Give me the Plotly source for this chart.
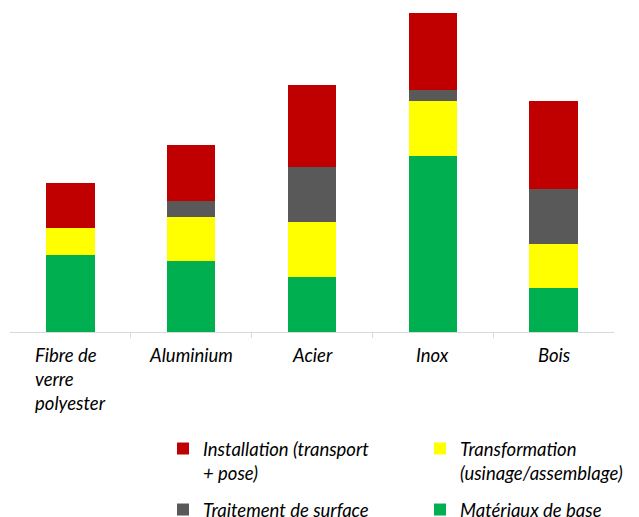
import plotly.graph_objects as go

categories = ["Fibre de<br>verre<br>polyester", "Aluminium", "Acier", "Inox", "Bois"]
materiaux = [24.0, 22.3, 17.2, 55.2, 13.7]
transformation = [8.6, 13.7, 17.2, 17.1, 13.9]
traitement = [0.0, 5.1, 17.3, 3.4, 17.3]
installation = [14.0, 17.5, 25.8, 24.3, 27.4]

series = [
    ("Matériaux de base", materiaux, "#00B050", "legend4"),
    ("Transformation<br>(usinage/assemblage)", transformation, "#FFFF00", "legend2"),
    ("Traitement de surface", traitement, "#595959", "legend3"),
    ("Installation (transport<br>+ pose)", installation, "#C00000", "legend"),
]

FONT = "Lato"
FSIZE = 18.5
xpos = list(range(len(categories)))

fig = go.Figure()
for name, vals, color, leg in series:
    fig.add_trace(go.Bar(
        x=xpos, y=vals, name=name, marker=dict(color=color, line=dict(width=0)),
        width=0.4, legend=leg,
    ))

for i, cat in enumerate(categories):
    fig.add_annotation(
        x=i, y=0, xref="x", yref="y", text=cat, showarrow=False,
        xanchor="center", yanchor="top", align="left", yshift=-10,
        font=dict(family=FONT, size=FSIZE, color="#000000", style="italic"),
    )

legfont = dict(family=FONT, size=FSIZE, color="#000000", style="italic")


def leg(x, y):
    return dict(orientation="h", x=x, xanchor="left", y=y, yanchor="top",
                xref="container", yref="container", valign="top", font=legfont,
                bgcolor="rgba(0,0,0,0)")


fig.update_layout(
    width=639, height=517,
    margin=dict(l=10, r=25, t=0, b=185, autoexpand=False),
    paper_bgcolor="white", plot_bgcolor="white",
    barmode="stack",
    showlegend=True,
    legend=leg(0.2551, 0.1683),
    legend2=leg(0.6573, 0.1683),
    legend3=leg(0.2551, 0.0503),
    legend4=leg(0.6573, 0.0503),
    xaxis=dict(range=[-0.5, 4.5], showgrid=False, zeroline=False, showline=True,
               linecolor="#d9d9d9", linewidth=1, ticks="outside", ticklen=5,
               tickcolor="#d9d9d9", tickmode="array", tickvals=[0.5, 1.5, 2.5, 3.5],
               showticklabels=False, fixedrange=True),
    yaxis=dict(range=[0, 104], visible=False, fixedrange=True),
)

fig.write_html("out.html")
